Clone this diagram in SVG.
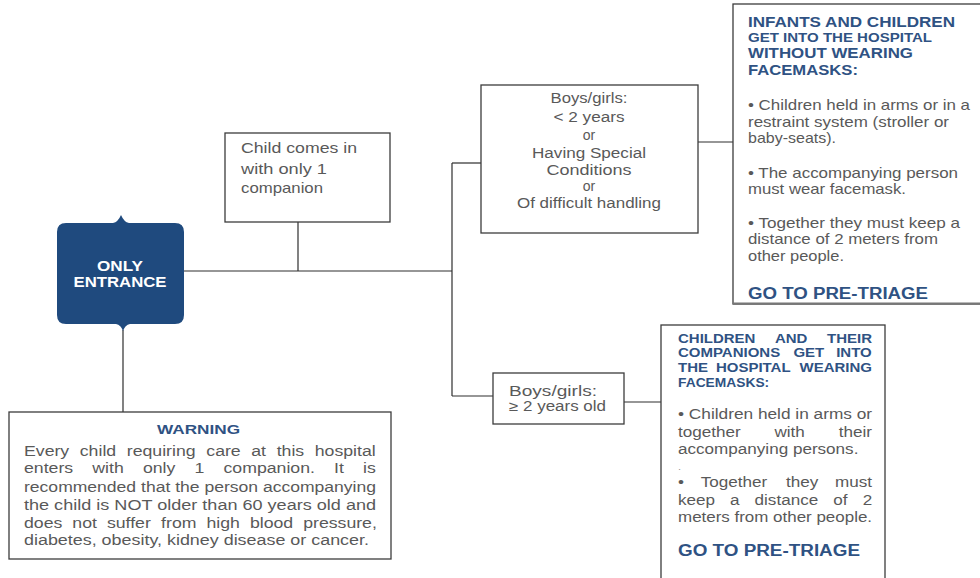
<svg xmlns="http://www.w3.org/2000/svg" width="980" height="578" viewBox="0 0 980 578">
<style>
.box{fill:#fff;stroke:#3c3c3c;stroke-width:1.3}
.ln{fill:none;stroke:#2e2e2e;stroke-width:1.2}
.t{font-family:"Liberation Sans",Arial,sans-serif;font-size:14px;fill:#595959}
.b{font-family:"Liberation Sans",Arial,sans-serif;font-weight:bold;fill:#2f5283}
.w{font-family:"Liberation Sans",Arial,sans-serif;font-weight:bold;font-size:14px;fill:#fff}
.m{font-size:15px}
</style>
<rect width="980" height="578" fill="#fff"/>
<g id="connectors">
<path class="ln" d="M184,271 H452"/>
<path class="ln" d="M298,222 V271"/>
<path class="ln" d="M452,163 V396"/>
<path class="ln" d="M452,163 H481"/>
<path class="ln" d="M452,396 H493"/>
<path class="ln" d="M698,142 H733"/>
<path class="ln" d="M624,402 H661"/>
<path class="ln" d="M123,330 V412"/>
</g>
<g id="entrance">
<path fill="#1f4a7e" d="M66,223 L113,223 Q118,222 121,215 Q124,222 129,223 L175,223 Q184,223 184,232 L184,315 Q184,324 175,324 L130,324 Q125,325 123,331 Q121,325 116,324 L66,324 Q57,324 57,315 L57,232 Q57,223 66,223 Z"/>
<text class="w" x="120" y="271" text-anchor="middle" textLength="46" lengthAdjust="spacingAndGlyphs">ONLY</text>
<text class="w" x="120" y="287" text-anchor="middle" textLength="93" lengthAdjust="spacingAndGlyphs">ENTRANCE</text>
</g>
<g id="child">
<rect class="box" x="225" y="133" width="165" height="89"/>
<text class="t" x="241" y="153" textLength="116" lengthAdjust="spacingAndGlyphs" style="font-size:14.5px">Child comes in</text>
<text class="t" x="241" y="174" textLength="86" lengthAdjust="spacingAndGlyphs" style="font-size:14.5px">with only 1</text>
<text class="t" x="241" y="193" textLength="82" lengthAdjust="spacingAndGlyphs" style="font-size:14.5px">companion</text>
</g>
<g id="under2">
<rect class="box" x="481" y="85" width="217" height="148"/>
<g text-anchor="middle">
<text class="t" x="589" y="103" textLength="77" lengthAdjust="spacingAndGlyphs">Boys/girls:</text>
<text class="t" x="589" y="122" textLength="71" lengthAdjust="spacingAndGlyphs">&lt; 2 years</text>
<text class="t" x="589" y="140">or</text>
<text class="t" x="589" y="158" textLength="114" lengthAdjust="spacingAndGlyphs">Having Special</text>
<text class="t" x="589" y="175" textLength="85" lengthAdjust="spacingAndGlyphs">Conditions</text>
<text class="t" x="589" y="191">or</text>
<text class="t" x="589" y="208" textLength="144" lengthAdjust="spacingAndGlyphs">Of difficult handling</text>
</g>
</g>
<g id="over2">
<rect class="box" x="493" y="373" width="131" height="51"/>
<text class="t" x="509" y="396" textLength="88" lengthAdjust="spacingAndGlyphs">Boys/girls:</text>
<text class="t" x="509" y="411" textLength="97" lengthAdjust="spacingAndGlyphs">≥ 2 years old</text>
</g>
<g id="nomask">
<rect class="box" x="733" y="4" width="262" height="300"/>
<line x1="733" y1="303.5" x2="980" y2="303.5" stroke="#777" stroke-width="2"/>
<text class="b" x="748" y="27" font-size="15" textLength="207" lengthAdjust="spacingAndGlyphs">INFANTS AND CHILDREN</text>
<text class="b" x="748" y="42" font-size="13" textLength="184" lengthAdjust="spacingAndGlyphs">GET INTO THE HOSPITAL</text>
<text class="b" x="748" y="58" font-size="15" textLength="165" lengthAdjust="spacingAndGlyphs">WITHOUT WEARING</text>
<text class="b" x="748" y="75" font-size="15" textLength="110" lengthAdjust="spacingAndGlyphs">FACEMASKS:</text>
<text class="t m" x="748" y="110" textLength="222" lengthAdjust="spacingAndGlyphs">• Children held in arms or in a</text>
<text class="t m" x="748" y="126.5" textLength="201" lengthAdjust="spacingAndGlyphs">restraint system (stroller or</text>
<text class="t m" x="748" y="143" textLength="88" lengthAdjust="spacingAndGlyphs">baby-seats).</text>
<text class="t m" x="748" y="178" textLength="210" lengthAdjust="spacingAndGlyphs">• The accompanying person</text>
<text class="t m" x="748" y="194" textLength="158" lengthAdjust="spacingAndGlyphs">must wear facemask.</text>
<text class="t m" x="748" y="228" textLength="212" lengthAdjust="spacingAndGlyphs">• Together they must keep a</text>
<text class="t m" x="748" y="244" textLength="190" lengthAdjust="spacingAndGlyphs">distance of 2 meters from</text>
<text class="t m" x="748" y="261" textLength="96" lengthAdjust="spacingAndGlyphs">other people.</text>
<text class="b" x="748" y="299" font-size="16" textLength="180" lengthAdjust="spacingAndGlyphs">GO TO PRE-TRIAGE</text>
</g>
<g id="mask">
<rect class="box" x="661" y="325" width="224" height="262"/>
<g transform="scale(1.2 1)">
<text class="b" y="343" font-size="12.5"><tspan x="565">CHILDREN</tspan><tspan x="645.8">AND</tspan><tspan x="689.2">THEIR</tspan></text>
<text class="b" y="357" font-size="12.5"><tspan x="565">COMPANIONS</tspan><tspan x="661.2">GET</tspan><tspan x="696.8">INTO</tspan></text>
<text class="b" y="372" font-size="12.5"><tspan x="565">THE</tspan><tspan x="596.6">HOSPITAL</tspan><tspan x="666.25">WEARING</tspan></text>
<text class="b" x="565" y="387" font-size="12.5" textLength="76" lengthAdjust="spacingAndGlyphs">FACEMASKS:</text>
</g>
<g transform="scale(1.221 1)">
<text class="t" x="555.3" y="419" textLength="158.9" lengthAdjust="spacingAndGlyphs">• Children held in arms or</text>
<text class="t" y="437"><tspan x="555.3">together</tspan><tspan x="634.3">with</tspan><tspan x="686.9">their</tspan></text>
<text class="t" x="555.3" y="454">accompanying persons.</text>
<text class="t" x="555.3" y="470" style="font-size:9px;fill:#999">.</text>
<text class="t" y="487"><tspan x="555.3">•</tspan><tspan x="573.9">Together</tspan><tspan x="643.7">they</tspan><tspan x="683.8">must</tspan></text>
<text class="t" y="505"><tspan x="555.3">keep</tspan><tspan x="597.9">a</tspan><tspan x="618.0">distance</tspan><tspan x="682.5">of</tspan><tspan x="706.5">2</tspan></text>
<text class="t" x="555.3" y="522" textLength="158.9" lengthAdjust="spacingAndGlyphs">meters from other people.</text>
</g>
<text class="b" x="678" y="556" font-size="16" textLength="182" lengthAdjust="spacingAndGlyphs">GO TO PRE-TRIAGE</text>
</g>
<g id="warning">
<rect class="box" x="9" y="412" width="382" height="147"/>
<text class="b" x="198.5" y="434" font-size="13" text-anchor="middle" textLength="83" lengthAdjust="spacingAndGlyphs">WARNING</text>
<g transform="scale(1.264 1)">
<text class="t" y="456"><tspan x="18.99">Every</tspan><tspan x="63.13">child</tspan><tspan x="100.32">requiring</tspan><tspan x="163.21">care</tspan><tspan x="198.81">at</tspan><tspan x="218.91">this</tspan><tspan x="249.05">hospital</tspan></text>
<text class="t" y="473"><tspan x="18.99">enters</tspan><tspan x="73.02">with</tspan><tspan x="113.05">only</tspan><tspan x="153.88">1</tspan><tspan x="176.82">companion.</tspan><tspan x="264.32">It</tspan><tspan x="287.26">is</tspan></text>
<text class="t" x="18.99" y="492" textLength="278.5" lengthAdjust="spacingAndGlyphs">recommended that the person accompanying</text>
<text class="t" x="18.99" y="510" textLength="278.5" lengthAdjust="spacingAndGlyphs">the child is NOT older than 60 years old and</text>
<text class="t" y="528"><tspan x="18.99">does</tspan><tspan x="57.20">not</tspan><tspan x="84.57">suffer</tspan><tspan x="127.45">from</tspan><tspan x="163.37">high</tspan><tspan x="197.70">blood</tspan><tspan x="239.87">pressure,</tspan></text>
<text class="t" x="18.99" y="545" textLength="272.9" lengthAdjust="spacingAndGlyphs">diabetes, obesity, kidney disease or cancer.</text>
</g>
</g>
</svg>
